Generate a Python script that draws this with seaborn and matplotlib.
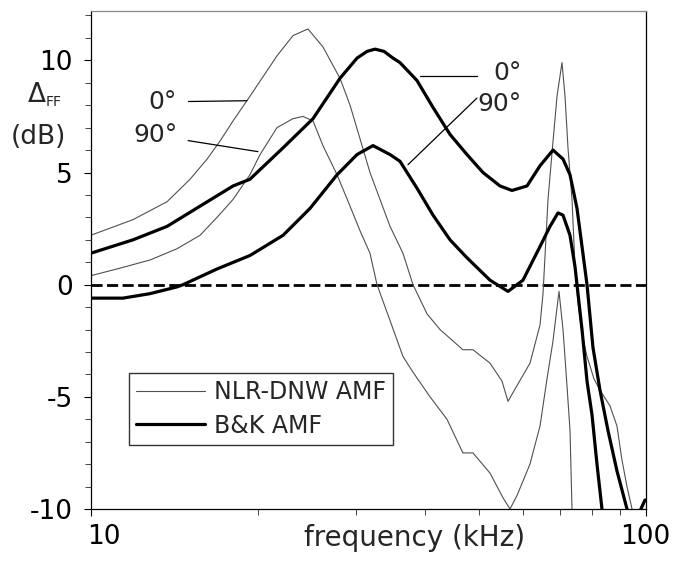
import numpy as np
import pandas as pd
import matplotlib
matplotlib.use("Agg")
import matplotlib.pyplot as plt
from matplotlib.ticker import NullFormatter, FixedLocator
from matplotlib.transforms import ScaledTranslation
import seaborn as sns

# ---------------- data ----------------
nlr0_f = [10.0, 11.92, 13.73, 15.10, 16.21, 17.10, 18.05, 19.36, 21.66, 23.14, 24.63, 26.21,
          28.13, 29.33, 30.57, 31.86, 33.21, 34.62, 36.53, 38.08, 40.36, 42.60, 46.84, 48.84,
          52.42, 55.09, 56.48, 58.63, 61.87, 64.50, 65.31, 66.68, 68.08, 69.22, 70.66, 71.55,
          72.44, 73.66, 74.58, 75.51, 76.78, 78.39, 80.70, 82.72, 86.22, 88.76, 90.60, 92.53, 94.48]
nlr0_d = [2.2, 2.9, 3.7, 4.7, 5.6, 6.4, 7.3, 8.4, 10.2, 11.1, 11.4, 10.6,
          9.2, 8.0, 6.5, 5.0, 3.8, 2.6, 1.4, 0.0, -1.3, -2.0, -2.9, -2.9,
          -3.5, -4.3, -5.2, -4.5, -3.5, -1.8, -0.4, 3.8, 6.4, 8.4, 9.9, 8.4,
          6.1, 3.8, 0.8, -0.8, -2.2, -3.2, -4.2, -4.7, -5.4, -6.3, -7.8, -9.0, -10.0]

nlr90_f = [10.0, 11.15, 12.79, 14.30, 15.74, 16.89, 18.05, 19.36, 20.19, 21.66, 23.14, 24.13,
           25.15, 26.21, 27.79, 29.33, 30.57, 31.86, 32.80, 34.62, 36.53, 38.08, 40.87, 43.85,
           46.84, 48.84, 52.42, 55.32, 56.95, 58.63, 61.87, 64.50, 66.40, 68.08, 69.79, 70.96,
           72.14, 73.05, 73.66]
nlr90_d = [0.4, 0.7, 1.1, 1.6, 2.2, 3.0, 3.8, 4.9, 5.8, 7.0, 7.4, 7.5,
           7.3, 6.2, 4.9, 3.5, 2.4, 1.4, 0.0, -1.6, -3.2, -3.9, -5.0, -6.0,
           -7.5, -7.5, -8.4, -9.5, -10.0, -9.4, -8.0, -6.3, -4.2, -2.5, -0.3, -2.0,
           -4.5, -6.5, -10.0]

bk0_f = [10.0, 11.92, 13.73, 15.74, 18.05, 19.36, 22.21, 25.15, 28.13, 30.19, 31.47, 32.53,
         33.77, 35.05, 36.08, 38.72, 41.38, 44.40, 47.64, 50.91, 54.64, 57.42, 61.11, 64.50,
         68.08, 70.96, 73.05, 75.20, 76.78, 78.39, 80.35, 82.72, 85.51, 88.76, 92.53, 96.0, 99.7]
bk0_d = [1.4, 2.0, 2.6, 3.5, 4.4, 4.7, 6.1, 7.4, 9.2, 10.1, 10.4, 10.5,
         10.4, 10.1, 9.9, 9.1, 7.9, 6.7, 5.8, 5.0, 4.4, 4.2, 4.4, 5.3,
         6.0, 5.6, 4.9, 3.4, 1.7, 0.0, -2.8, -4.7, -6.5, -8.3, -10.0, -10.5, -9.6]

bk90_f = [10.0, 11.43, 12.79, 14.30, 14.67, 16.89, 19.36, 22.21, 24.84, 27.79, 30.19, 32.26,
          34.62, 36.08, 38.72, 41.38, 44.40, 47.64, 52.42, 56.48, 60.10, 64.50, 67.24, 69.50,
          70.96, 73.05, 74.58, 75.51, 76.78, 78.39, 80.03, 81.70, 83.41]
bk90_d = [-0.6, -0.6, -0.4, -0.1, 0.0, 0.7, 1.3, 2.2, 3.4, 4.9, 5.8, 6.2,
          5.8, 5.5, 4.3, 3.1, 2.0, 1.2, 0.2, -0.3, 0.2, 1.7, 2.6, 3.2,
          3.1, 2.2, 0.8, -0.4, -2.0, -4.3, -5.8, -8.0, -10.0]

x_ticks = [10, 100]
x_tick_labels = ["10", "100"]
y_ticks = [-10, -5, 0, 5, 10]
legend_labels = ["NLR-DNW AMF", "B&K AMF"]

# ---------------- style ----------------
sns.set_theme(style="ticks")
plt.rcParams["font.family"] = ["DejaVu Sans"]
plt.rcParams["axes.unicode_minus"] = False
plt.rcParams["axes.linewidth"] = 1.0

fig = plt.figure(figsize=(6.84, 5.65), dpi=100)
ax = fig.add_axes([90.7 / 684, 1 - 509 / 565, 555 / 684, 498 / 565])

thin_kw = dict(color="#505050", linewidth=0.8, estimator=None, ax=ax)
thick_kw = dict(color="black", linewidth=2.3, estimator=None, ax=ax)

df_n0 = pd.DataFrame({"f": nlr0_f, "d": nlr0_d})
df_n90 = pd.DataFrame({"f": nlr90_f, "d": nlr90_d})
df_b0 = pd.DataFrame({"f": bk0_f, "d": bk0_d})
df_b90 = pd.DataFrame({"f": bk90_f, "d": bk90_d})

sns.lineplot(data=df_n0, x="f", y="d", label=legend_labels[0], **thin_kw)
sns.lineplot(data=df_n90, x="f", y="d", **thin_kw)
sns.lineplot(data=df_b0, x="f", y="d", label=legend_labels[1], **thick_kw)
sns.lineplot(data=df_b90, x="f", y="d", **thick_kw)

ax.axhline(0, color="black", linewidth=2.0, dashes=(4, 1.6), zorder=1)

ax.set_xscale("log")
ax.set_xlim(10, 100)
ax.set_ylim(-10, 12.2)
ax.xaxis.set_major_locator(FixedLocator(x_ticks))
ax.set_xticklabels(x_tick_labels)
ax.xaxis.set_minor_locator(FixedLocator(list(range(20, 100, 10))))
ax.xaxis.set_minor_formatter(NullFormatter())
ax.set_yticks(y_ticks)
ax.set_yticks(np.arange(-10, 13, 1), minor=True)

ax.tick_params(axis="both", which="major", direction="out", length=5, width=0.8,
               labelsize=19, pad=6, colors="black")
ax.tick_params(axis="both", which="minor", direction="out", length=4, width=0.6)
ax.tick_params(axis="y", which="major", pad=8)
for s in ax.spines.values():
    s.set_visible(True)
    s.set_color("black")
    s.set_linewidth(0.9)
ax.spines["top"].set_color("#888888")

labs = ax.get_xticklabels()
labs[0].set_horizontalalignment("left")
labs[0].set_transform(labs[0].get_transform() + ScaledTranslation(-4 / 100, 0, fig.dpi_scale_trans))

ax.set_xlabel("frequency (kHz)", fontsize=20)
ax.xaxis.set_label_coords(0.584, -0.03)
ax.set_ylabel("")

# y label as two pieces of text
fig.text(28 / 684, 1 - 95 / 565, "Δ", fontsize=19, ha="left", va="center")
fig.text(46 / 684, 1 - 102 / 565, "FF", fontsize=10, ha="left", va="center")
fig.text(38 / 684, 1 - 137 / 565, "(dB)", fontsize=19, ha="center", va="center")

# curve annotations
ann_kw = dict(fontsize=18, va="center")
line_kw = dict(color="black", linewidth=0.9)
ax.annotate("0°", xy=(19.12, 8.2), xytext=(14.30, 8.15), ha="right",
            arrowprops=dict(arrowstyle="-", shrinkA=6, shrinkB=0, **line_kw), **ann_kw)
ax.annotate("90°", xy=(20.02, 5.93), xytext=(14.36, 6.65), ha="right",
            arrowprops=dict(arrowstyle="-", shrinkA=5, shrinkB=0, **line_kw), **ann_kw)
ax.plot([39.21, 49.66], [9.31, 9.31], **line_kw)
ax.text(53.1, 9.45, "0°", ha="left", **ann_kw)
ax.plot([49.66, 37.30], [8.32, 5.35], **line_kw)
ax.text(49.8, 8.05, "90°", ha="left", **ann_kw)

leg = ax.legend(loc="upper left", bbox_to_anchor=((129 - 90.7) / 555, (509 - 373) / 498),
                fontsize=17, frameon=True, fancybox=False, edgecolor="black",
                handlelength=2.9, handletextpad=0.4, labelspacing=0.4, borderpad=0.3,
                borderaxespad=0)
leg.get_frame().set_linewidth(1.0)

fig.savefig("out.png", dpi=100)
